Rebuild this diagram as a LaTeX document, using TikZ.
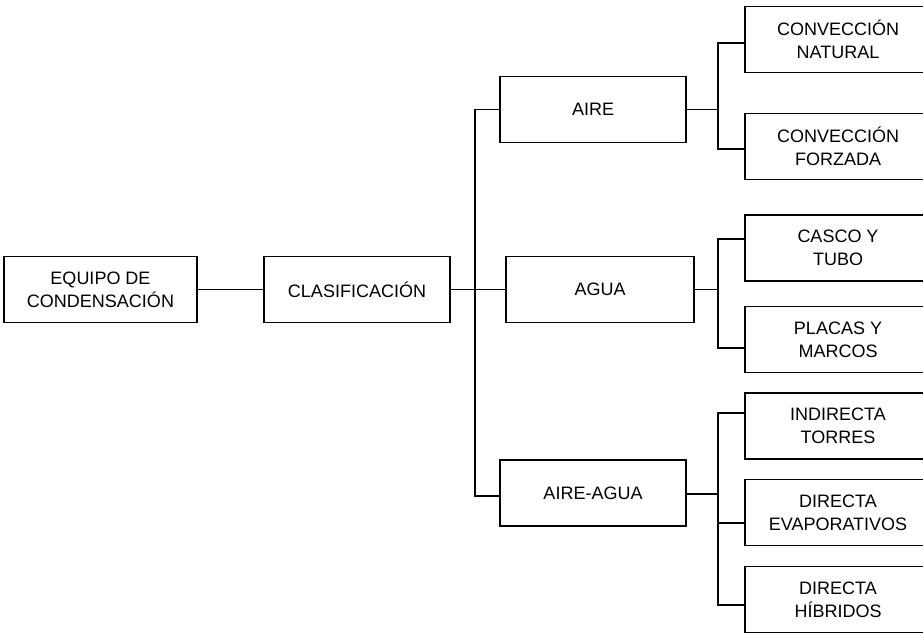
\documentclass[tikz,border=0pt]{standalone}
\usepackage{fontspec}
\setmainfont{Liberation Sans}
\usepackage{tikz}
\usetikzlibrary{positioning,calc}
\tikzset{
  caja/.style={draw, line width=1.2pt, align=center, inner sep=2pt,
               minimum width=186pt, minimum height=66pt,
               font=\fontsize{18}{23}\selectfont},
  hoja/.style={caja, minimum width=186pt},
  rama/.style={-, line width=1.2pt},
}
\begin{document}
\begin{tikzpicture}[x=1pt,y=-1pt]

    %% ---------- marco ----------
    \useasboundingbox (0,0) rectangle (923,634);

    %% ---------- nivel 1 y 2 ----------
    \node[caja, minimum width=193pt] (equipo) at (100.5,289.5) {EQUIPO DE\\CONDENSACIÓN};
    \node[caja] (clasif) at (357,289.5) {CLASIFICACIÓN};

    %% ---------- tipos ----------
    \node[caja] (aire)     at (593,109.5) {AIRE};
    \node[caja, minimum width=188pt] (agua) at (600,289.5) {AGUA};
    \node[caja] (aireagua) at (593,493) {AIRE-AGUA};

    %% ---------- subtipos (cortados por el borde derecho) ----------
    \node[hoja] (natural) at (838,39.5)  {CONVECCIÓN\\NATURAL};
    \node[hoja] (forzada) at (838,146.5) {CONVECCIÓN\\FORZADA};
    \node[hoja] (casco)   at (838,248)   {CASCO Y\\TUBO};
    \node[hoja] (placas)  at (838,339.5) {PLACAS Y\\MARCOS};
    \node[hoja] (torres)  at (838,426)   {INDIRECTA\\TORRES};
    \node[hoja] (evapo)   at (838,512.5) {DIRECTA\\EVAPORATIVOS};
    \node[hoja] (hibri)   at (838,599.5) {DIRECTA\\HÍBRIDOS};

    %% ---------- puntos de bifurcacion ----------
    \coordinate (b1) at (475,289.5);
    \coordinate (b2) at (718,109.5);
    \coordinate (b3) at (718,289.5);
    \coordinate (b4) at (718,494);

    %% ---------- conexiones ----------
    \draw[rama] (equipo) -- (clasif);
    \draw[rama] (clasif.east) -- (agua.west);
    \draw[rama] (b1) |- (aire.west);
    \draw[rama] (b1) |- ([yshift=-3pt]aireagua.west);

    \draw[rama] (aire) -- (b2);
    \draw[rama] (b2) |- ([yshift=-3.5pt]natural.west);
    \draw[rama] (b2) |- ([yshift=-2.5pt]forzada.west);

    \draw[rama] (agua) -- (b3);
    \draw[rama] (b3) |- ([yshift=9pt]casco.west);
    \draw[rama] (b3) |- ([yshift=-8.5pt]placas.west);

    \draw[rama] ([yshift=-1pt]aireagua.east) -- (b4);
    \draw[rama] (b4) |- ([yshift=13pt]torres.west);
    \draw[rama] (b4) |- ([yshift=-10.5pt]evapo.west);
    \draw[rama] (b4) |- ([yshift=-5.5pt]hibri.west);

\end{tikzpicture}
\end{document}
